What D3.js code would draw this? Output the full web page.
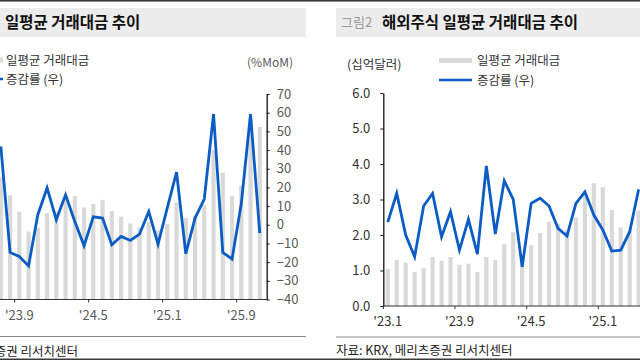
<!DOCTYPE html>
<html>
<head>
<meta charset="utf-8">
<script src="https://cdn.jsdelivr.net/npm/d3@7"></script>
<style>
  body { margin: 0; background: #fff; }
  svg { display: block; }
  text { font-family: "Noto Sans CJK KR", "Noto Sans", sans-serif; }
</style>
</head>
<body>
<svg id="chart" width="640" height="360"></svg>
<script>
// -------------------------
// DATA (left panel: 국내 / right panel: 해외주식)
// -------------------------
const leftMonths = ["23.7","23.8","23.9","23.10","23.11","23.12","24.1","24.2","24.3","24.4",
  "24.5","24.6","24.7","24.8","24.9","24.10","24.11","24.12","25.1","25.2",
  "25.3","25.4","25.5","25.6","25.7","25.8","25.9","25.10","25.11"];
const leftVolume = [23.9, 20.3, 17.1, 13.2, 14.0, 16.8, 17.1, 19.8, 20.1, 17.9,
  18.6, 19.4, 17.2, 16.1, 14.8, 14.0, 15.1, 13.5, 14.7, 18.9,
  15.9, 16.3, 18.4, 29.1, 24.7, 20.1, 22.2, 35.2, 33.6];
const leftChange = [42, -14.8, -17, -22, 5.4, 19.7, 2.7, 16, 1.8, -11.2,
  4.3, 3.6, -10.7, -6.2, -8.4, -5, 7.1, -10.3, 9, 28.2,
  -15.5, 3.6, 13.8, 59.3, -14.8, -18.4, 11.2, 59.3, -4.5];
const leftTicks = ["23.9", "24.5", "25.1", "25.9"];
const leftPctTicks = [-40, -30, -20, -10, 0, 10, 20, 30, 40, 50, 60, 70];

const rightMonths = ["23.1","23.2","23.3","23.4","23.5","23.6","23.7","23.8","23.9","23.10",
  "23.11","23.12","24.1","24.2","24.3","24.4","24.5","24.6","24.7","24.8",
  "24.9","24.10","24.11","24.12","25.1","25.2","25.3","25.4","25.5"];
const rightVolume = [1.04, 1.30, 1.22, 0.96, 1.07, 1.38, 1.27, 1.38, 1.16, 1.19,
  0.96, 1.38, 1.30, 1.74, 2.08, 1.46, 1.71, 2.06, 2.38, 2.32,
  2.14, 2.49, 3.12, 3.46, 3.35, 2.70, 2.21, 2.12, 2.69];
const rightChange = [3, 24.6, -6.7, -23, 15.1, 24.6, -8, 10.8, -18, 5.1,
  -21, 45.2, -5.9, 34.1, 20.1, -30.5, 17.1, 20.9, 15.1, -1.7,
  -7.4, 17.1, 25.8, 8.3, -2.9, -18.7, -18, -4.2, 27.6];
const rightTicks = ["23.1", "23.9", "24.5", "25.1"];
const rightValTicks = [0, 1, 2, 3, 4, 5, 6];

const BAR = "#d9d9d9";
const BLUE = "#0b5cc5";

const svg = d3.select("#chart");

// -------------------------
// FRAME / TITLES
// -------------------------
svg.append("rect").attr("x", 0).attr("y", 0).attr("width", 640).attr("height", 1.6).attr("fill", "#3a3a3a");
svg.append("rect").attr("x", 0).attr("y", 358.5).attr("width", 640).attr("height", 1.5).attr("fill", "#3a3a3a");

svg.append("rect").attr("x", 0).attr("y", 8).attr("width", 306).attr("height", 29).attr("fill", "#ececec");
svg.append("rect").attr("x", 336).attr("y", 8).attr("width", 304).attr("height", 29).attr("fill", "#ececec");

svg.append("text").attr("x", 5).attr("y", 27.5).attr("font-size", 15.5).attr("font-weight", 700)
  .attr("fill", "#111").text("일평균 거래대금 추이");
svg.append("text").attr("x", 341).attr("y", 27).attr("font-size", 13).attr("fill", "#9a9a9a").text("그림2");
svg.append("text").attr("x", 382).attr("y", 27.5).attr("font-size", 15.5).attr("font-weight", 700)
  .attr("fill", "#111").text("해외주식 일평균 거래대금 추이");

svg.append("line").attr("x1", 0).attr("x2", 306).attr("y1", 336.5).attr("y2", 336.5).attr("stroke", "#8a8a8a");
svg.append("line").attr("x1", 336).attr("x2", 640).attr("y1", 337).attr("y2", 337).attr("stroke", "#8a8a8a");
svg.append("text").attr("x", 78).attr("y", 355.5).attr("text-anchor", "end").attr("font-size", 12.5)
  .attr("fill", "#222").text("자료: KRX, 메리츠증권 리서치센터");
svg.append("text").attr("x", 336).attr("y", 355).attr("font-size", 12.5)
  .attr("fill", "#222").text("자료: KRX, 메리츠증권 리서치센터");

// -------------------------
// LEGENDS
// -------------------------
function legend(x, yBar, yLine, textX) {
  svg.append("rect").attr("x", x).attr("y", yBar - 2.5).attr("width", 33).attr("height", 5).attr("fill", BAR);
  svg.append("line").attr("x1", x).attr("x2", x + 33).attr("y1", yLine).attr("y2", yLine)
    .attr("stroke", BLUE).attr("stroke-width", 2.5);
  svg.append("text").attr("x", textX).attr("y", yBar + 4.5).attr("font-size", 12.5).attr("fill", "#333").text("일평균 거래대금");
  svg.append("text").attr("x", textX).attr("y", yLine + 4.5).attr("font-size", 12.5).attr("fill", "#333").text("증감률 (우)");
}
legend(-30, 60, 79, 6);
legend(439, 60.5, 80, 477);

svg.append("text").attr("x", 293).attr("y", 67).attr("text-anchor", "end").attr("font-size", 12)
  .attr("fill", "#595959").text("(%MoM)");
svg.append("text").attr("x", 347).attr("y", 69).attr("font-size", 12.5)
  .attr("fill", "#333").text("(십억달러)");

// -------------------------
// PANEL DRAWING
// -------------------------
function drawBarsAndLine(g, x, yBar, yLine, months, vol, chg) {
  const bw = 4.2;
  g.selectAll("rect.bar").data(months).enter().append("rect")
    .attr("class", "bar")
    .attr("x", (m) => x(m) + x.bandwidth() / 2 - bw / 2)
    .attr("width", bw)
    .attr("y", (m, i) => yBar(vol[i]))
    .attr("height", (m, i) => yBar(0) - yBar(vol[i]))
    .attr("fill", BAR);

  const line = d3.line()
    .x((d) => x(d.m) + x.bandwidth() / 2)
    .y((d) => yLine(d.v));
  g.append("path")
    .datum(months.map((m, i) => ({ m, v: chg[i] })))
    .attr("d", line)
    .attr("fill", "none")
    .attr("stroke", BLUE)
    .attr("stroke-width", 2.8)
    .attr("stroke-linejoin", "miter");
}

function xTicks(g, x, ticks, yAxis, color) {
  ticks.forEach((t) => {
    g.append("line").attr("x1", x(t)).attr("x2", x(t)).attr("y1", yAxis).attr("y2", yAxis + 3)
      .attr("stroke", "#333");
    g.append("text").attr("x", x(t) + x.bandwidth() / 2).attr("y", yAxis + 20)
      .attr("text-anchor", "middle").attr("font-size", 13).attr("fill", color).text("'" + t);
  });
}

// left panel
{
  const g = svg.append("g");
  const x = d3.scaleBand().domain(leftMonths).range([-3.8, 264.4]);
  const yPct = d3.scaleLinear().domain([-40, 70]).range([299.5, 94]);
  const yVol = d3.scaleLinear().domain([0, 40]).range([299.5, 94]);

  drawBarsAndLine(g, x, yVol, yPct, leftMonths, leftVolume, leftChange);

  g.append("line").attr("x1", -5).attr("x2", 266.7).attr("y1", 299.5).attr("y2", 299.5)
    .attr("stroke", "#333").attr("stroke-width", 1.2);
  xTicks(g, x, leftTicks, 299.5, "#595959");

  const ax = g.append("g").attr("transform", "translate(266.7,0)")
    .call(d3.axisRight(yPct).tickValues(leftPctTicks).tickSize(3).tickSizeOuter(0).tickPadding(7));
  ax.select(".domain").attr("stroke", "#111").attr("stroke-width", 1.3);
  ax.selectAll(".tick line").attr("stroke", "#111");
  ax.selectAll(".tick text").attr("font-size", 13).attr("fill", "#595959")
    .attr("font-family", "\"Noto Sans CJK KR\", sans-serif");
}

// right panel
{
  const g = svg.append("g");
  const x = d3.scaleBand().domain(rightMonths).range([383.3, 383.3 + 29 * 8.96]);
  const yVol = d3.scaleLinear().domain([0, 6]).range([306, 93]);
  const yPct = d3.scaleLinear().domain([-60, 100]).range([306, 93]);

  drawBarsAndLine(g, x, yVol, yPct, rightMonths, rightVolume, rightChange);

  g.append("line").attr("x1", 383.3).attr("x2", 645).attr("y1", 306).attr("y2", 306)
    .attr("stroke", "#333").attr("stroke-width", 1.2);
  xTicks(g, x, rightTicks, 306, "#333");

  const ax = g.append("g").attr("transform", "translate(383.3,0)")
    .call(d3.axisLeft(yVol).tickValues(rightValTicks).tickFormat(d3.format(".1f"))
      .tickSize(3).tickSizeOuter(0).tickPadding(10));
  ax.select(".domain").attr("stroke", "#111").attr("stroke-width", 1.3);
  ax.selectAll(".tick line").attr("stroke", "#111");
  ax.selectAll(".tick text").attr("font-size", 13).attr("fill", "#333")
    .attr("font-family", "\"Noto Sans CJK KR\", sans-serif");
}
</script>
</body>
</html>
